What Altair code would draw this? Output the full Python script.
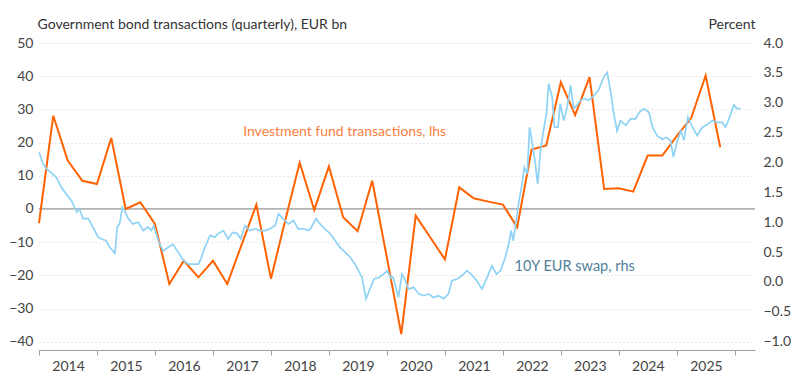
import altair as alt
import pandas as pd

# ---------------- data ----------------
fund_start = "2014-01-01"   # quarterly series, first quarter
fund_flows = [-4.3, 28.1, 14.6, 8.5, 7.5, 21.4, 0.0, 2.0, -4.5, -22.6, -15.6, -20.6,
              -15.6, -22.6, -10.7, 1.3, -21.0, -3.5, 13.9, -0.3, 12.8, -2.5, -6.7, 8.5,
              -14.6, -37.7, -2.0, -8.6, -15.2, 6.5, 3.2, 2.2, 1.3, -5.5, 17.9, 19.1,
              38.2, 28.3, 39.7, 6.0, 6.2, 5.2, 16.1, 16.1, 22.0, 27.4, 40.2, 18.6]

swap_year = [2014.00, 2014.07, 2014.13, 2014.21, 2014.30, 2014.39, 2014.47, 2014.56, 2014.65, 2014.70,
             2014.76, 2014.85, 2014.93, 2015.02, 2015.08, 2015.16, 2015.22, 2015.31, 2015.35, 2015.39,
             2015.44, 2015.48, 2015.54, 2015.62, 2015.71, 2015.80, 2015.88, 2015.94, 2015.98, 2016.06,
             2016.14, 2016.23, 2016.31, 2016.40, 2016.49, 2016.57, 2016.66, 2016.75, 2016.80, 2016.86,
             2016.95, 2017.03, 2017.09, 2017.18, 2017.26, 2017.34, 2017.42, 2017.48, 2017.55, 2017.64,
             2017.73, 2017.81, 2017.90, 2017.98, 2018.07, 2018.13, 2018.21, 2018.30, 2018.39, 2018.47,
             2018.56, 2018.65, 2018.70, 2018.78, 2018.85, 2018.93, 2019.02, 2019.11, 2019.19, 2019.28,
             2019.37, 2019.45, 2019.51, 2019.57, 2019.64, 2019.70, 2019.78, 2019.87, 2019.94, 2020.01,
             2020.07, 2020.11, 2020.20, 2020.26, 2020.32, 2020.37, 2020.46, 2020.55, 2020.63, 2020.72,
             2020.80, 2020.89, 2020.98, 2021.06, 2021.12, 2021.21, 2021.30, 2021.38, 2021.47, 2021.55,
             2021.64, 2021.73, 2021.81, 2021.89, 2021.96, 2022.04, 2022.10, 2022.14, 2022.18, 2022.22,
             2022.27, 2022.33, 2022.37, 2022.42, 2022.46, 2022.50, 2022.56, 2022.60, 2022.65, 2022.70,
             2022.75, 2022.79, 2022.85, 2022.89, 2022.95, 2022.99, 2023.05, 2023.11, 2023.17, 2023.22,
             2023.28, 2023.34, 2023.40, 2023.48, 2023.57, 2023.65, 2023.74, 2023.80, 2023.86, 2023.91,
             2023.97, 2024.03, 2024.12, 2024.20, 2024.29, 2024.35, 2024.43, 2024.52, 2024.58, 2024.66,
             2024.75, 2024.81, 2024.89, 2024.94, 2025.01, 2025.07, 2025.12, 2025.19, 2025.27, 2025.35,
             2025.44, 2025.53, 2025.61, 2025.70, 2025.78, 2025.84, 2025.93, 2025.98, 2026.04, 2026.10]
swap_rate = [2.17, 1.98, 1.89, 1.83, 1.75, 1.58, 1.47, 1.36, 1.17, 1.22,
             1.06, 1.06, 0.92, 0.75, 0.72, 0.69, 0.58, 0.48, 0.92, 0.97,
             1.25, 1.19, 1.06, 0.97, 1.00, 0.86, 0.92, 0.86, 0.94, 0.69,
             0.52, 0.58, 0.63, 0.50, 0.36, 0.30, 0.30, 0.30, 0.41, 0.58,
             0.78, 0.75, 0.81, 0.86, 0.72, 0.83, 0.81, 0.72, 0.94, 0.86,
             0.89, 0.86, 0.86, 0.89, 0.94, 1.14, 1.06, 0.97, 1.03, 0.89,
             0.89, 0.86, 0.92, 1.06, 0.97, 0.89, 0.81, 0.69, 0.58, 0.50,
             0.41, 0.30, 0.19, 0.08, -0.28, -0.14, 0.05, 0.08, 0.13, 0.19,
             0.06, 0.08, -0.26, 0.13, 0.02, -0.12, -0.09, -0.20, -0.23, -0.20,
             -0.26, -0.23, -0.28, -0.20, 0.02, 0.05, 0.11, 0.19, 0.11, 0.02,
             -0.12, 0.08, 0.27, 0.13, 0.19, 0.41, 0.63, 0.86, 0.69, 0.97,
             1.31, 1.64, 1.92, 1.81, 2.59, 2.37, 1.98, 1.64, 2.20, 2.53,
             2.81, 3.32, 3.09, 2.59, 2.59, 2.98, 2.70, 2.93, 3.29, 2.90,
             2.96, 3.04, 3.07, 3.04, 3.12, 3.21, 3.43, 3.51, 3.18, 2.84,
             2.53, 2.70, 2.62, 2.73, 2.73, 2.84, 2.90, 2.84, 2.59, 2.45,
             2.39, 2.42, 2.37, 2.09, 2.37, 2.53, 2.37, 2.76, 2.59, 2.45,
             2.59, 2.64, 2.70, 2.67, 2.67, 2.59, 2.81, 2.96, 2.90, 2.90]

year_ticks = list(range(2014, 2027))
lhs_ticks = list(range(-40, 51, 10))
rhs_ticks = [-1.0, -0.5, 0.0, 0.5, 1.0, 1.5, 2.0, 2.5, 3.0, 3.5, 4.0]

title_lhs = "Government bond transactions (quarterly), EUR bn"
title_rhs = "Percent"
label_fund = "Investment fund transactions, lhs"
label_swap = "10Y EUR swap, rhs"

# ---------------- styling / layout ----------------
ORANGE = "#FF6200"
ORANGE_TXT = "#F7803F"
BLUE = "#8ED2F6"
BLUE_TXT = "#4F7F9B"
FONT = "Lato"

lhs_domain = [-42.5, 50]
rhs_domain = [4.0 - (lhs_domain[1] - lhs_domain[0]) / 18.0, 4.0]
x_domain = ["2014-01-01", "2026-05-08"]


def year_to_date(y):
    yr = int(y)
    start = pd.Timestamp(year=yr, month=1, day=1)
    end = pd.Timestamp(year=yr + 1, month=1, day=1)
    return start + (end - start) * (y - yr)


fund_df = pd.DataFrame({
    "date": pd.date_range(fund_start, periods=len(fund_flows), freq="QS"),
    "value": fund_flows,
})
swap_df = pd.DataFrame({
    "date": [year_to_date(y) for y in swap_year],
    "rate": swap_rate,
})
labels_df = pd.DataFrame({
    "date": [year_to_date(2017.52), year_to_date(2022.20)],
    "value": [23.1, -17.5],
    "text": [label_fund, label_swap],
    "kind": ["fund", "swap"],
    "size": [14, 14.5],
})
zero_df = pd.DataFrame({"date": [pd.Timestamp(x_domain[0])], "value": [0.0]})

x_scale = alt.Scale(domain=x_domain)
y_lhs = alt.Scale(domain=lhs_domain, nice=False, zero=False)
y_rhs = alt.Scale(domain=rhs_domain, nice=False, zero=False)

x_axis = alt.Axis(
    values=[alt.DateTime(year=y, month=1, date=1) for y in year_ticks],
    labelExpr="year(datum.value) >= 2026 ? '' : timeFormat(datum.value, '%Y')",
    labelOffset=29, labelFlush=False, labelOverlap=False,
    tickSize=5, tickColor="#a0a0a0", domainColor="#a0a0a0",
    labelFontSize=14, labelColor="#444444", labelPadding=4,
    grid=False, title=None,
)

lhs_axis = alt.Axis(
    values=lhs_ticks, grid=True, gridDash=[1, 3], gridColor="#cfcfcf",
    domain=False, ticks=False, labelPadding=6, labelFontSize=14, labelColor="#444444",
    title=title_lhs, titleAngle=0, titleAlign="left", titleBaseline="middle",
    titleX=-2, titleY=-19, titleFontSize=14, titleFontWeight="normal", titleColor="#333333",
)

rhs_axis = alt.Axis(
    values=rhs_ticks, format=".1f", orient="right", grid=False,
    domain=False, ticks=False, labelPadding=8, labelFontSize=14, labelColor="#444444",
    title=title_rhs, titleAngle=0, titleAlign="right", titleBaseline="middle",
    titleX=0, titleY=-19, titleFontSize=14, titleFontWeight="normal", titleColor="#333333",
)

fund_line = alt.Chart(fund_df).mark_line(color=ORANGE, strokeWidth=2).encode(
    x=alt.X("date:T", scale=x_scale, axis=x_axis),
    y=alt.Y("value:Q", scale=y_lhs, axis=lhs_axis),
)

zero = alt.Chart(zero_df).mark_rule(color="#9a9a9a", strokeWidth=1.2).encode(
    y=alt.Y("value:Q", scale=y_lhs, axis=lhs_axis),
)

texts = alt.Chart(labels_df).mark_text(
    align="left", baseline="middle", font=FONT
).encode(
    x=alt.X("date:T", scale=x_scale, axis=x_axis),
    y=alt.Y("value:Q", scale=y_lhs, axis=lhs_axis),
    text="text:N",
    size=alt.Size("size:Q", scale=None, legend=None),
    color=alt.Color("kind:N", scale=alt.Scale(domain=["fund", "swap"],
                                                range=[ORANGE_TXT, BLUE_TXT]), legend=None),
)

left_layer = alt.layer(zero, fund_line, texts)

swap_line = alt.Chart(swap_df).mark_line(color=BLUE, strokeWidth=1.7).encode(
    x=alt.X("date:T", scale=x_scale, axis=x_axis),
    y=alt.Y("rate:Q", scale=y_rhs, axis=rhs_axis),
)

chart = alt.layer(left_layer, swap_line).resolve_scale(y="independent").properties(
    width=716, height=307,
    autosize=alt.AutoSizeParams(type="none"),
    padding={"left": 31, "top": 35, "right": 36, "bottom": 32},
).configure(
    font=FONT,
).configure_view(stroke=None).configure_axis(labelFont=FONT, titleFont=FONT)

chart.save("out.html", embed_options={"renderer": "svg", "actions": False})
